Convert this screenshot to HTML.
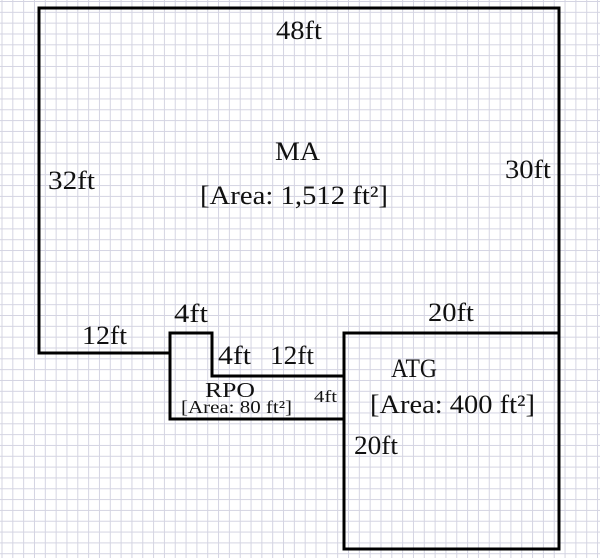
<!DOCTYPE html>
<html><head><style>
html,body{margin:0;padding:0}
body{width:600px;height:558px;overflow:hidden;background:#fff;
background-image:linear-gradient(to right,#d4d4e2 1px,transparent 1px),linear-gradient(to bottom,#d4d4e2 1px,transparent 1px);
background-size:10.83px 10.83px;background-position:1.5px 1px;}
svg{position:absolute;left:0;top:0}
text{font-family:"Liberation Serif",serif;fill:#111}
</style></head><body>
<svg width="600" height="558">
<g stroke="#000" stroke-width="3" fill="none" stroke-linecap="square">
<polyline points="39,353 39,8 559,8 559,549 344,549 344,333 559,333"/>
<polyline points="39,353 170,353"/>
<polyline points="170,419 170,333 212,333 212,376 344,376"/>
<polyline points="170,419 344,419"/>
</g>
<g font-size="26">
<text x="276" y="39" textLength="46" lengthAdjust="spacingAndGlyphs">48ft</text>
<text x="275" y="160" textLength="45" lengthAdjust="spacingAndGlyphs">MA</text>
<text x="200" y="204" textLength="188" lengthAdjust="spacingAndGlyphs">[Area: 1,512 ft²]</text>
<text x="48" y="189" textLength="47" lengthAdjust="spacingAndGlyphs">32ft</text>
<text x="505" y="178" textLength="46" lengthAdjust="spacingAndGlyphs">30ft</text>
<text x="82" y="344" textLength="45" lengthAdjust="spacingAndGlyphs">12ft</text>
<text x="174" y="322" textLength="34" lengthAdjust="spacingAndGlyphs">4ft</text>
<text x="428" y="321" textLength="46" lengthAdjust="spacingAndGlyphs">20ft</text>
<text x="218" y="364" textLength="33" lengthAdjust="spacingAndGlyphs">4ft</text>
<text x="270" y="364" textLength="44" lengthAdjust="spacingAndGlyphs">12ft</text>
<text x="391" y="377" textLength="46" lengthAdjust="spacingAndGlyphs">ATG</text>
<text x="370" y="413" textLength="165" lengthAdjust="spacingAndGlyphs">[Area: 400 ft²]</text>
<text x="354" y="454" textLength="44" lengthAdjust="spacingAndGlyphs">20ft</text>
</g>
<text x="205" y="397" font-size="21" textLength="50" lengthAdjust="spacingAndGlyphs">RPO</text>
<text x="181" y="413" font-size="18" textLength="111" lengthAdjust="spacingAndGlyphs">[Area: 80 ft²]</text>
<text x="314" y="402" font-size="17" textLength="23" lengthAdjust="spacingAndGlyphs">4ft</text>
</svg>
</body></html>
